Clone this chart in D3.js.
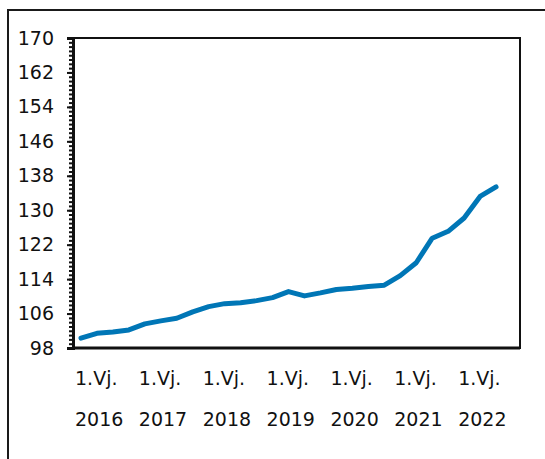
<!DOCTYPE html>
<html>
<head>
<meta charset="utf-8">
<script src="https://cdn.jsdelivr.net/npm/d3@7"></script>
<style>
  html, body { margin: 0; padding: 0; background: #fff; }
  svg { display: block; }
  text { font-family: "DejaVu Sans", sans-serif; fill: #111; }
</style>
</head>
<body>
<svg id="chart" width="545" height="459"></svg>
<script>
// ---- data ----
const quarters = [
  "1.Vj. 2016","2.Vj. 2016","3.Vj. 2016","4.Vj. 2016",
  "1.Vj. 2017","2.Vj. 2017","3.Vj. 2017","4.Vj. 2017",
  "1.Vj. 2018","2.Vj. 2018","3.Vj. 2018","4.Vj. 2018",
  "1.Vj. 2019","2.Vj. 2019","3.Vj. 2019","4.Vj. 2019",
  "1.Vj. 2020","2.Vj. 2020","3.Vj. 2020","4.Vj. 2020",
  "1.Vj. 2021","2.Vj. 2021","3.Vj. 2021","4.Vj. 2021",
  "1.Vj. 2022","2.Vj. 2022","3.Vj. 2022","4.Vj. 2022"
];
const values = [
  100.3, 101.4, 101.7, 102.2,
  103.6, 104.3, 104.9, 106.4,
  107.6, 108.3, 108.5, 109.0,
  109.7, 111.1, 110.1, 110.8,
  111.6, 111.9, 112.3, 112.6,
  114.8, 117.8, 123.5, 125.1,
  128.2, 133.2, 135.4
];
const yTickValues = [98, 106, 114, 122, 130, 138, 146, 154, 162, 170];
const yMinorTicks = d3.range(98, 171, 1);
const xLabelTop = ["1.Vj.","1.Vj.","1.Vj.","1.Vj.","1.Vj.","1.Vj.","1.Vj."];
const xLabelYears = ["2016","2017","2018","2019","2020","2021","2022"];
const xLabelAt = ["1.Vj. 2016","1.Vj. 2017","1.Vj. 2018","1.Vj. 2019","1.Vj. 2020","1.Vj. 2021","1.Vj. 2022"];

// ---- layout ----
const svg = d3.select("#chart");
const plot = { left: 73, top: 38, right: 520, bottom: 348 };
const fontSize = "19px";

// outer frame (extends beyond the image on right/bottom)
svg.append("rect")
  .attr("x", 8).attr("y", 10)
  .attr("width", 600).attr("height", 500)
  .attr("fill", "none").attr("stroke", "#1a1a1a").attr("stroke-width", 2);

const x = d3.scaleBand().domain(quarters).range([plot.left, plot.right]);
const y = d3.scaleLinear().domain([98, 170]).range([plot.bottom, plot.top]);

// plot border
svg.append("rect")
  .attr("x", plot.left).attr("y", plot.top)
  .attr("width", plot.right - plot.left).attr("height", plot.bottom - plot.top)
  .attr("fill", "none").attr("stroke", "#111").attr("stroke-width", 2);

// minor ticks
const minorAxis = d3.axisLeft(y).tickValues(yMinorTicks).tickSize(4).tickFormat("");
svg.append("g").attr("transform", `translate(${plot.left},0)`).call(minorAxis)
  .call(g => g.select(".domain").remove())
  .call(g => g.selectAll("line").attr("stroke", "#111").attr("stroke-width", 2));

// major axis
const yAxis = d3.axisLeft(y).tickValues(yTickValues).tickSize(6).tickPadding(13).tickFormat(d3.format("d"));
svg.append("g").attr("transform", `translate(${plot.left},0)`).call(yAxis)
  .call(g => g.select(".domain").attr("stroke", "#111").attr("stroke-width", 3))
  .call(g => g.selectAll("line").attr("stroke", "#111").attr("stroke-width", 2))
  .call(g => g.selectAll("text")
      .attr("font-family", "DejaVu Sans, sans-serif")
      .attr("font-size", fontSize).attr("fill", "#111"));

// bottom axis line
svg.append("line")
  .attr("x1", plot.left).attr("x2", plot.right)
  .attr("y1", plot.bottom).attr("y2", plot.bottom)
  .attr("stroke", "#111").attr("stroke-width", 3);

// x labels
const xl = svg.append("g");
xLabelAt.forEach((q, i) => {
  const tx = x(q) + 2;
  xl.append("text").attr("x", tx).attr("y", 385)
    .attr("font-size", fontSize).text(xLabelTop[i]);
  xl.append("text").attr("x", tx).attr("y", 426)
    .attr("font-size", fontSize).text(xLabelYears[i]);
});

// line
const line = d3.line()
  .x((d, i) => x(quarters[i]) + x.bandwidth() / 2)
  .y(d => y(d));
svg.append("path")
  .datum(values)
  .attr("d", line)
  .attr("fill", "none")
  .attr("stroke", "#0076b6")
  .attr("stroke-width", 5)
  .attr("stroke-linejoin", "round")
  .attr("stroke-linecap", "round");
</script>
</body>
</html>
